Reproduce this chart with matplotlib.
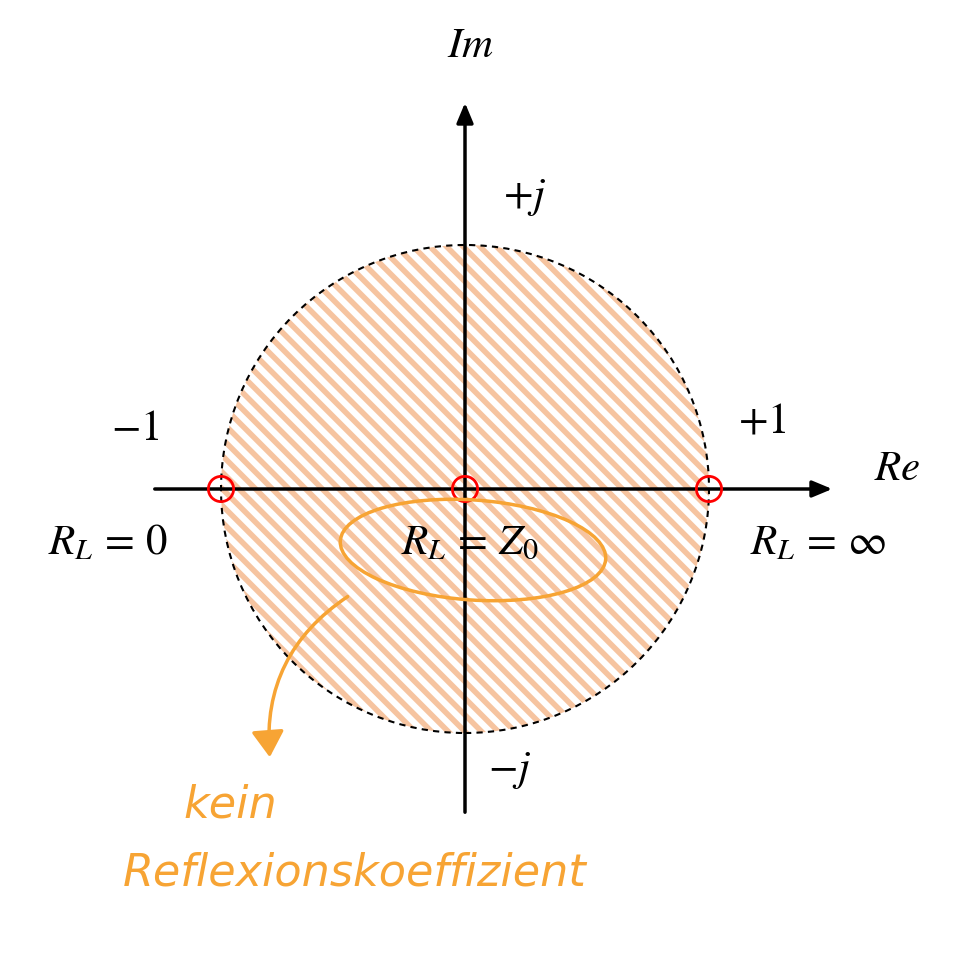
import matplotlib
matplotlib.use("Agg")
import matplotlib.pyplot as plt
from matplotlib.patches import Circle, Ellipse, FancyArrowPatch

plt.rcParams['mathtext.fontset'] = 'stix'
plt.rcParams['hatch.linewidth'] = 4
plt.rcParams['hatch.color'] = '#f6c4a0'

points_re = [-1, 0, 1]
point_labels = [r'$R_L\,=\,0$', r'$R_L\,=\,Z_0$', r'$R_L\,=\,\infty$']
orange = '#f7a434'

R = 244.0
fig = plt.figure(figsize=(9.72, 9.57), dpi=100)
ax = fig.add_axes([0, 0, 1, 1])
ax.set_xlim(-465 / R, (972 - 465) / R)
ax.set_ylim((489 - 957) / R, 489 / R)
ax.set_aspect('equal')
ax.axis('off')

ax.add_patch(Circle((0, 0), 1, facecolor='white', edgecolor='#f6c4a0', hatch='\\\\', lw=0, zorder=1))
ax.add_patch(Circle((0, 0), 1, facecolor='none', edgecolor='black', ls=(0, (3, 2.5)), lw=1.5, zorder=2))

ax.annotate('', xy=(835/R - 465/R, 0), xytext=(152/R - 465/R, 0),
            arrowprops=dict(arrowstyle='-|>,head_length=1.2,head_width=0.5', color='black', lw=2.5), zorder=3)
ax.annotate('', xy=(0, (489 - 100) / R), xytext=(0, (489 - 815) / R),
            arrowprops=dict(arrowstyle='-|>,head_length=1.2,head_width=0.5', color='black', lw=2.5), zorder=3)

ax.scatter(points_re, [0] * 3, s=330, facecolors='none', edgecolors='red', linewidths=2, zorder=4)

def t(px, py, s, **kw):
    ax.text((px - 465) / R, (489 - py) / R, s, ha='center', va='center', fontsize=31, zorder=5, **kw)

t(470, 45, r'$Im$')
t(525, 197, r'$+j$')
t(510, 770, r'$-j$')
t(135, 428, r'$-1$')
t(762, 420, r'$+1$')
t(897, 468, r'$Re$')
for px, lab in zip([108, 470, 818], point_labels):
    t(px, 542, lab)

ax.add_patch(Ellipse(((473 - 465) / R, (489 - 550) / R), 266 / R, 100 / R, angle=-4,
                     facecolor='none', edgecolor=orange, lw=2.5, zorder=5))
ax.add_patch(FancyArrowPatch(((350 - 465) / R, (489 - 595) / R), ((270 - 465) / R, (489 - 760) / R),
                             connectionstyle='arc3,rad=0.3', arrowstyle='-|>,head_length=8,head_width=5',
                             color=orange, lw=2.5, mutation_scale=2, zorder=5))
ax.text((230 - 465) / R, (489 - 805) / R, 'kein', color=orange, fontsize=32, ha='center', va='center',
        family='DejaVu Sans', style='italic')
ax.text((355 - 465) / R, (489 - 873) / R, 'Reflexionskoeffizient', color=orange, fontsize=32,
        ha='center', va='center', family='DejaVu Sans', style='italic')

fig.savefig('out.png', dpi=100)
